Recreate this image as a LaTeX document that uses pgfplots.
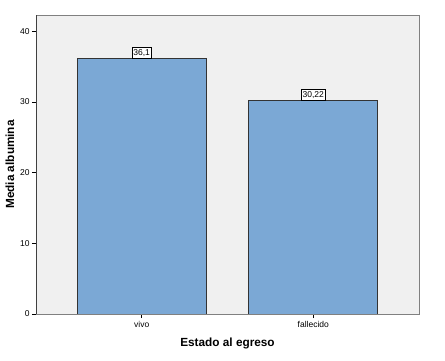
\documentclass[border=0pt]{standalone}
\usepackage{pgfplots}
\pgfplotsset{compat=1.18}
\usepackage{fontspec}
\setmainfont{Liberation Sans}
\definecolor{barblue}{RGB}{123,168,213}
\definecolor{bg}{RGB}{240,240,240}
\begin{document}
\begin{tikzpicture}
\begin{axis}[
  at={(36bp,47bp)}, anchor=south west,
  scale only axis,
  width=383bp, height=299bp,
  xmin=-0.616, xmax=1.616,
  ymin=0, ymax=42.3,
  axis background/.style={fill=bg},
  axis line style={draw=gray, line width=0.8pt},
  ybar, bar width=0.752,
  xtick=data,
  xticklabels={vivo,fallecido},
  ytick={0,10,20,30,40},
  tick align=outside,
  tick pos=left,
  major tick length=4bp,
  tick style={black, line width=0.6pt},
  ticklabel style={font=\fontsize{8.5bp}{10bp}\selectfont},
  yticklabel style={xshift=1bp},
  xticklabel style={yshift=0bp},
  /pgf/number format/assume math mode=true,
  ylabel={\bfseries Media albumina},
  xlabel={\bfseries Estado al egreso},
  label style={font=\fontsize{11.8bp}{13bp}\selectfont},
  ylabel style={at={(axis description cs:-0.068,0.5)}, anchor=center},
  xlabel style={at={(axis description cs:0.5,-0.1)}, anchor=center},
  nodes near coords,
  nodes near coords style={font=\fontsize{8.5bp}{10bp}\selectfont, fill=white, draw=black, line width=0.4pt, inner xsep=1.3bp, inner ysep=2bp, anchor=south, yshift=0bp},
  point meta=explicit symbolic,
]
\addplot[fill=barblue, draw=black!80, line width=0.8pt] coordinates {(0,36.1)[36,1] (1,30.22)[30,22]};
\draw[black!75, line width=0.8pt] (rel axis cs:0,0) -- (rel axis cs:0,1);
\draw[black!75, line width=0.8pt] (rel axis cs:0,0) -- (rel axis cs:1,0);
\end{axis}
\pgfresetboundingbox
\path (0,0) rectangle (445bp,361bp);
\end{tikzpicture}
\end{document}
